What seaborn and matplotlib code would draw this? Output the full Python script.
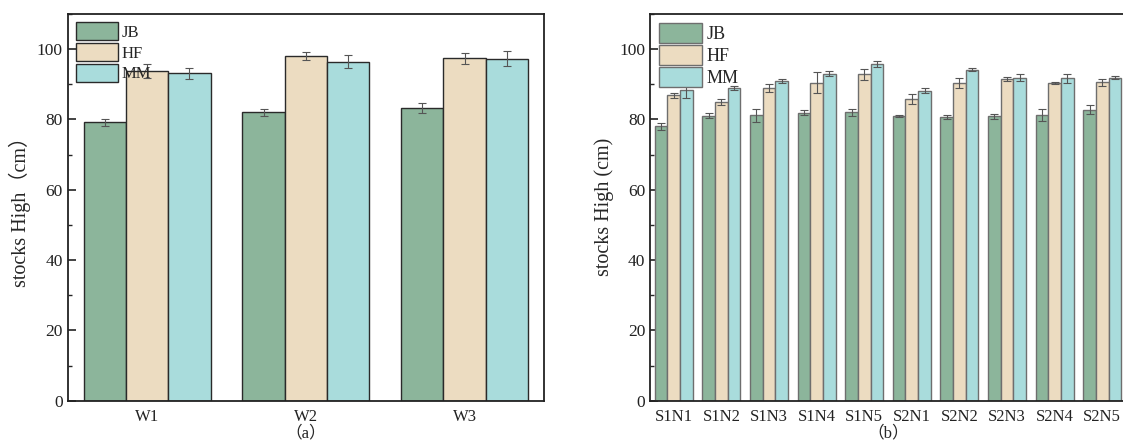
import numpy as np
import pandas as pd
import matplotlib
matplotlib.use("Agg")
import matplotlib.pyplot as plt
import seaborn as sns
from matplotlib.ticker import MultipleLocator

# ---- data ----
groups = ["JB", "HF", "MM"]
colors = ["#8cb59b", "#ecdcc1", "#a9dcdc"]

w_cats = ["W1", "W2", "W3"]
w_jb = [79.2, 82.1, 83.3]
w_hf = [93.7, 98.0, 97.4]
w_mm = [93.1, 96.4, 97.3]
w_jb_err = [1.0, 1.0, 1.4]
w_hf_err = [2.0, 1.2, 1.5]
w_mm_err = [1.6, 1.8, 2.1]

s_cats = ["S1N1", "S1N2", "S1N3", "S1N4", "S1N5",
          "S2N1", "S2N2", "S2N3", "S2N4", "S2N5"]
s_jb = [78.0, 81.1, 81.2, 81.9, 82.0, 81.1, 80.8, 80.9, 81.3, 82.8]
s_hf = [86.9, 84.9, 88.9, 90.5, 92.8, 85.7, 90.3, 91.5, 90.3, 90.6]
s_mm = [88.3, 88.9, 90.9, 93.0, 95.8, 88.2, 94.1, 91.8, 91.7, 91.9]
s_jb_err = [0.9, 0.7, 1.9, 0.7, 1.0, 0.3, 0.6, 0.7, 1.6, 1.2]
s_hf_err = [0.7, 0.9, 1.2, 2.9, 1.6, 1.4, 1.4, 0.6, 0.3, 1.0]
s_mm_err = [2.2, 0.5, 0.6, 0.7, 0.9, 0.8, 0.4, 1.0, 1.3, 0.5]


def to_long(cats, jb, hf, mm, jb_e, hf_e, mm_e):
    rows = []
    for g, vals, errs in zip(groups, [jb, hf, mm], [jb_e, hf_e, mm_e]):
        for c, v, e in zip(cats, vals, errs):
            rows.append({"cat": c, "group": g, "value": v, "err": e})
    return pd.DataFrame(rows)


def draw_panel(ax, df, cats, edge, ylabel, xlabel, leg_fs, hlen, hh):
    sns.barplot(data=df, x="cat", y="value", hue="group", order=cats,
                hue_order=groups, palette=colors, saturation=1, errorbar=None,
                edgecolor=edge, linewidth=1.0, width=0.8, ax=ax)
    # error bars at the bar centres
    for g, cont in zip(groups, ax.containers):
        sub = df[df["group"] == g].set_index("cat").loc[cats]
        xs = [p.get_x() + p.get_width() / 2 for p in cont.patches]
        ax.errorbar(xs, sub["value"], yerr=sub["err"], fmt="none",
                    ecolor="#555555", elinewidth=0.8, capsize=3, capthick=0.8)
    ax.set_ylim(0, 110)
    ax.set_xlim(-0.5, len(cats) - 0.5)
    ax.yaxis.set_major_locator(MultipleLocator(20))
    ax.yaxis.set_minor_locator(MultipleLocator(10))
    ax.tick_params(axis="y", which="major", direction="in", length=6,
                   width=1.2, labelsize=12.5, colors="#222222")
    ax.tick_params(axis="y", which="minor", direction="in", length=3, width=1.0)
    ax.tick_params(axis="x", length=0, labelsize=12, pad=6, colors="#222222")
    ax.set_ylabel(ylabel, fontsize=14.5, family=["Liberation Serif", "Noto Sans CJK SC"])
    ax.set_xlabel(xlabel, fontsize=12, labelpad=0,
                  family=["Liberation Serif", "Noto Sans CJK SC"])
    for s in ax.spines.values():
        s.set_linewidth(1.3)
        s.set_color("#222222")
    ax.legend(loc="upper left", frameon=False, fontsize=leg_fs,
              handlelength=hlen, handleheight=hh, labelspacing=0.12,
              handletextpad=0.25, borderaxespad=0.3, borderpad=0.2)


sns.set_style("ticks")
plt.rcParams["font.family"] = ["Liberation Serif", "Noto Sans CJK SC"]

fig = plt.figure(figsize=(11.23, 4.44), dpi=100)
ax1 = fig.add_axes([0.0603, 0.0975, 0.4241, 0.871])
ax2 = fig.add_axes([0.5788, 0.0975, 0.4239, 0.871])

df_w = to_long(w_cats, w_jb, w_hf, w_mm, w_jb_err, w_hf_err, w_mm_err)
df_s = to_long(s_cats, s_jb, s_hf, s_mm, s_jb_err, s_hf_err, s_mm_err)

draw_panel(ax1, df_w, w_cats, "#2a2a2a", "stocks High（cm）", "（a）", 12, 2.5, 1.3)
draw_panel(ax2, df_s, s_cats, "#6e6e6e", "stocks High (cm)", "（b）", 13, 2.4, 1.3)

fig.savefig("out.png", dpi=100)
